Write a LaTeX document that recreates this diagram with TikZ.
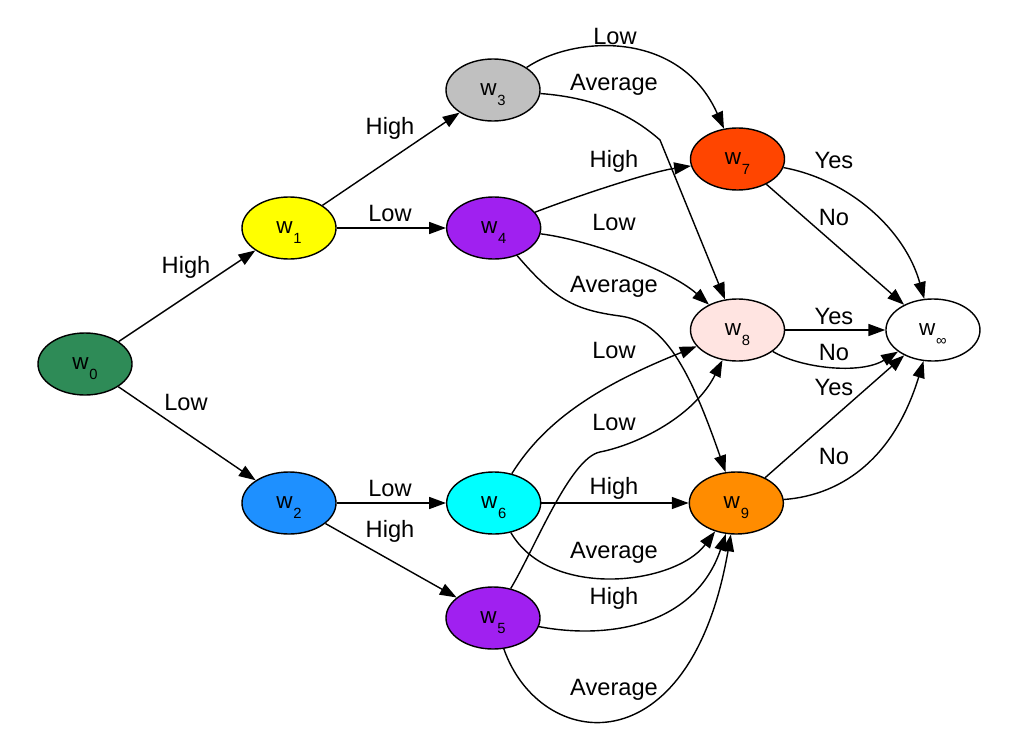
\documentclass[tikz,border=0pt]{standalone}
\usepackage{fontspec}
\setmainfont{Liberation Sans}
\usetikzlibrary{arrows.meta, shapes.geometric, positioning}
\definecolor{wzerofill}{HTML}{2E8B57}
\definecolor{wonefill}{HTML}{FFFF00}
\definecolor{wtwofill}{HTML}{1E90FF}
\definecolor{wthreefill}{HTML}{C0C0C0}
\definecolor{wpurplefill}{HTML}{A020F0}
\definecolor{wsixfill}{HTML}{00FFFF}
\definecolor{wsevenfill}{HTML}{FF4500}
\definecolor{weightfill}{HTML}{FFE4E1}
\definecolor{wninefill}{HTML}{FF8C00}
\tikzset{
  wgnode/.style = {draw, ellipse, line width=1pt, inner sep=0pt,
                   minimum width=2.35cm, minimum height=1.55cm,
                   font=\fontsize{16}{16}\selectfont},
  wgedge/.style = {line width=1pt, -{Triangle[length=4.2mm,width=3mm]}},
  wglbl/.style  = {font=\fontsize{16.8}{20}\selectfont, inner sep=0pt}
}
\newcommand{\wlab}[1]{w\kern0.02cm\smash{\raisebox{-0.25cm}{\fontsize{10.5}{10.5}\selectfont #1}}}

\begin{document}
\begin{tikzpicture}[x=0.025cm, y=-0.025cm]
  \useasboundingbox (0,0) rectangle (1016,742);

  \node[wgnode, fill=wzerofill]  (w0) at (85,364)    {\wlab{0}};
  \node[wgnode, fill=wonefill]   (w1) at (289,228)   {\wlab{1}};
  \node[wgnode, fill=wtwofill]   (w2) at (289,503)   {\wlab{2}};
  \node[wgnode, fill=wthreefill] (w3) at (493,90)    {\wlab{3}};
  \node[wgnode, fill=wpurplefill, right=2.73cm of w1] (w4) {\wlab{4}};
  \node[wgnode, fill=wsixfill,    right=2.73cm of w2] (w6) {\wlab{6}};
  \node[wgnode, fill=wpurplefill] (w5) at (493,618)  {\wlab{5}};
  \node[wgnode, fill=wsevenfill] (w7) at (737.5,159) {\wlab{7}};
  \node[wgnode, fill=weightfill] (w8) at (737.5,330) {\wlab{8}};
  \node[wgnode, fill=wninefill,  right=3.68cm of w6] (w9) {\wlab{9}};
  \node[wgnode, fill=white,      right=2.5cm of w8]  (winf) {\wlab{∞}};

  \draw[wgedge] (w0) -- (w1) node[wglbl] at (186,267) {High};
  \draw[wgedge] (w0) -- (w2) node[wglbl] at (186,402) {Low};
  \draw[wgedge] (w1) -- (w3) node[wglbl] at (390,128) {High};
  \draw[wgedge] (w1) -- (w4) node[wglbl] at (390,213) {Low};
  \draw[wgedge] (w2) -- (w6) node[wglbl] at (390,488) {Low};
  \draw[wgedge] (w2) -- (w5) node[wglbl] at (390,531) {High};

  \draw[wgedge] (w3) .. controls (575,35) and (680,30) .. (w7)
        node[wglbl] at (615,36) {Low};
  \draw[wgedge] (w3) .. controls (600,98) and (635,118) .. (660,140) -- (w8)
        node[wglbl] at (614,85) {Average};
  \draw[wgedge] (w4) .. controls (580,195) and (650,172) .. (w7)
        node[wglbl] at (614,161) {High};
  \draw[wgedge] (w4) .. controls (590,240) and (670,270) .. (w8)
        node[wglbl] at (614,222) {Low};
  \draw[wgedge] (w4) .. controls (555,300) and (575,310) .. (620,316)
        .. controls (665,322) and (690,370) .. (w9)
        node[wglbl] at (614,287) {Average};
  \draw[wgedge] (w6) .. controls (545,420) and (600,385) .. (w8)
        node[wglbl] at (614,350) {Low};
  \draw[wgedge] (w5) .. controls (535,548) and (570,458) .. (600,452)
        .. controls (640,444) and (695,415) .. (w8)
        node[wglbl] at (614,422) {Low};
  \draw[wgedge] (w6) -- (w9) node[wglbl] at (614,488) {High};
  \draw[wgedge] (w6) .. controls (550,600) and (675,585) .. (w9)
        node[wglbl] at (614,553) {Average};
  \draw[wgedge] (w5) .. controls (610,640) and (695,625) .. (w9)
        node[wglbl] at (614,598) {High};
  \draw[wgedge] (w5) .. controls (540,752) and (690,770) .. (w9)
        node[wglbl] at (614,690) {Average};

  \draw[wgedge] (w7) .. controls (850,180) and (905,230) .. (winf)
        node[wglbl] at (834,160) {Yes};
  \draw[wgedge] (w7) -- (winf) node[wglbl] at (834,217) {No};
  \draw[wgedge] (w8) -- (winf) node[wglbl] at (834,316) {Yes};
  \draw[wgedge] (w8) .. controls (800,368) and (860,375) .. (winf)
        node[wglbl] at (834,352) {No};
  \draw[wgedge] (w9) -- (winf) node[wglbl] at (834,387) {Yes};
  \draw[wgedge] (w9) .. controls (845,495) and (895,455) .. (winf)
        node[wglbl] at (834,456) {No};
\end{tikzpicture}
\end{document}
